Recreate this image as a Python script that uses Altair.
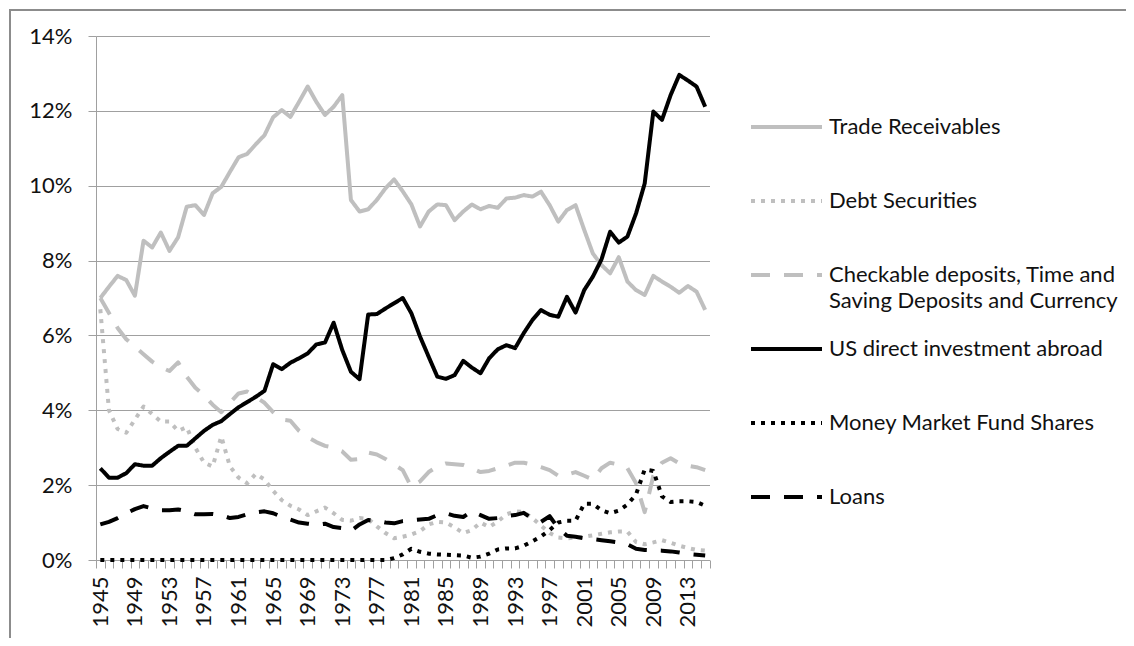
import altair as alt
import pandas as pd

years = list(range(1945, 2016))

trade_receivables = [
    7.0, 7.3, 7.59, 7.48, 7.06, 8.53, 8.35, 8.75, 8.26, 8.62,
    9.44, 9.48, 9.22, 9.8, 9.97, 10.37, 10.76, 10.85, 11.11, 11.35,
    11.83, 12.02, 11.84, 12.24, 12.65, 12.24, 11.89, 12.11, 12.42, 9.62,
    9.31, 9.37, 9.62, 9.93, 10.17, 9.85, 9.5, 8.91, 9.31, 9.5,
    9.48, 9.08, 9.31, 9.5, 9.37, 9.46, 9.41, 9.66, 9.68, 9.75,
    9.71, 9.84, 9.48, 9.04, 9.35, 9.48, 8.82, 8.19, 7.88, 7.66,
    8.09, 7.44, 7.21, 7.08, 7.59, 7.44, 7.3, 7.14, 7.32, 7.17, 6.68,
]

debt_securities = [
    6.7, 4.0, 3.5, 3.4, 3.75, 4.1, 3.9, 3.7, 3.7, 3.45,
    3.55, 3.0, 2.6, 2.5, 3.3, 2.5, 2.2, 2.05, 2.3, 2.15,
    1.85, 1.6, 1.45, 1.35, 1.2, 1.3, 1.4, 1.25, 1.07, 1.05,
    1.12, 1.1, 0.9, 0.72, 0.58, 0.62, 0.68, 0.77, 0.95, 1.02,
    1.0, 0.87, 0.72, 0.8, 1.0, 0.88, 1.03, 1.22, 1.3, 1.28,
    1.12, 0.92, 0.72, 0.6, 0.58, 0.6, 0.62, 0.66, 0.7, 0.74,
    0.76, 0.76, 0.48, 0.42, 0.47, 0.53, 0.46, 0.38, 0.32, 0.27, 0.25,
]

checkable_deposits = [
    7.0, 6.6, 6.2, 5.9, 5.7, 5.5, 5.3, 5.15, 5.05, 5.28,
    4.9, 4.6, 4.4, 4.15, 3.95, 4.2, 4.45, 4.5, 4.35, 4.2,
    3.95, 3.75, 3.72, 3.45, 3.28, 3.15, 3.05, 3.0, 2.9, 2.68,
    2.7, 2.87, 2.82, 2.7, 2.55, 2.4, 1.95, 2.1, 2.35, 2.5,
    2.58, 2.56, 2.54, 2.45, 2.35, 2.38, 2.45, 2.52, 2.6, 2.6,
    2.55, 2.48, 2.4, 2.25, 2.28, 2.35, 2.25, 2.15, 2.45, 2.6,
    2.55, 2.45, 2.05, 1.28, 2.25, 2.6, 2.72, 2.58, 2.52, 2.48, 2.4,
]

us_direct_investment = [
    2.45, 2.2, 2.2, 2.32, 2.56, 2.52, 2.52, 2.72, 2.89, 3.05,
    3.05, 3.25, 3.45, 3.61, 3.71, 3.9, 4.08, 4.22, 4.36, 4.52,
    5.23, 5.1, 5.27, 5.39, 5.52, 5.76, 5.81, 6.34, 5.61, 5.03,
    4.83, 6.56, 6.57, 6.72, 6.86, 7.0, 6.59, 5.97, 5.43, 4.9,
    4.84, 4.94, 5.32, 5.14, 4.99, 5.39, 5.63, 5.74, 5.66, 6.06,
    6.41, 6.68, 6.55, 6.5, 7.03, 6.61, 7.21, 7.57, 8.03, 8.77,
    8.48, 8.64, 9.26, 10.06, 11.98, 11.76, 12.42, 12.96, 12.81, 12.65, 12.11,
]

money_market = [
    0.0, 0.0, 0.0, 0.0, 0.0, 0.0, 0.0, 0.0, 0.0, 0.0,
    0.0, 0.0, 0.0, 0.0, 0.0, 0.0, 0.0, 0.0, 0.0, 0.0,
    0.0, 0.0, 0.0, 0.0, 0.0, 0.0, 0.0, 0.0, 0.0, 0.0,
    0.0, 0.0, 0.0, 0.0, 0.05, 0.15, 0.3, 0.22, 0.17, 0.15,
    0.14, 0.13, 0.12, 0.06, 0.09, 0.17, 0.28, 0.31, 0.31, 0.38,
    0.5, 0.63, 0.8, 1.0, 1.05, 1.05, 1.5, 1.5, 1.33, 1.25,
    1.32, 1.48, 1.75, 2.42, 2.38, 1.7, 1.55, 1.57, 1.57, 1.55, 1.45,
]

loans = [
    0.95, 1.02, 1.12, 1.25, 1.36, 1.44, 1.38, 1.33, 1.33, 1.35,
    1.3, 1.22, 1.22, 1.23, 1.2, 1.12, 1.15, 1.22, 1.27, 1.3,
    1.25, 1.15, 1.08, 1.0, 0.97, 0.94, 0.97, 0.88, 0.85, 0.78,
    0.95, 1.07, 1.05, 1.0, 0.98, 1.04, 1.06, 1.08, 1.1, 1.2,
    1.25, 1.18, 1.15, 1.3, 1.2, 1.1, 1.12, 1.18, 1.2, 1.26,
    1.1, 1.02, 1.17, 0.85, 0.65, 0.62, 0.58, 0.56, 0.53, 0.5,
    0.47, 0.42, 0.3, 0.27, 0.26, 0.25, 0.23, 0.2, 0.16, 0.14, 0.12,
]

series_names = [
    "Trade Receivables",
    "Debt Securities",
    "Checkable deposits, Time and Saving Deposits and Currency",
    "US direct investment abroad",
    "Money Market Fund Shares",
    "Loans",
]
series_values = [
    trade_receivables,
    debt_securities,
    checkable_deposits,
    us_direct_investment,
    money_market,
    loans,
]
series_colors = ["#BFBFBF", "#BFBFBF", "#BFBFBF", "#000000", "#000000", "#000000"]
series_dashes = [[1, 0], [4, 6], [19, 14], [1, 0], [4, 6], [19, 14]]

y_ticks = [0, 2, 4, 6, 8, 10, 12, 14]
x_tick_bounds = [y - 0.5 for y in years] + [years[-1] + 0.5]

rows = []
for name, vals in zip(series_names, series_values):
    for yr, v in zip(years, vals):
        rows.append({"year": yr, "value": v, "series": name})
df = pd.DataFrame(rows)

FONT = "Lato"
GRID = "#A0A0A0"

legend = alt.Legend(
    title=None,
    orient="none",
    legendX=653,
    legendY=54,
    padding=0,
    symbolType="stroke",
    symbolSize=5041,
    symbolStrokeWidth=4,
    clipHeight=74,
    rowPadding=0,
    labelFont=FONT,
    labelFontSize=22,
    labelColor="#111111",
    labelOffset=5,
    labelLimit=600,
    labelExpr=(
        "datum.label == 'Checkable deposits, Time and Saving Deposits and Currency'"
        " ? ['Checkable deposits, Time and', 'Saving Deposits and Currency'] : datum.label"
    ),
)

lines = alt.Chart(df).mark_line(strokeWidth=4, strokeJoin="round").encode(
    x=alt.X(
        "year:Q",
        scale=alt.Scale(domain=[1944.5, 2015.5], nice=False, zero=False),
        axis=alt.Axis(
            title=None,
            values=x_tick_bounds,
            labelExpr="(datum.value + 0.5 - 1945) % 4 == 0 ? '' + (datum.value + 0.5) : ''",
            labelOffset=4.3,
            labelAngle=270,
            labelFont=FONT,
            labelFontSize=22,
            labelColor="#111111",
            labelPadding=8,
            labelOverlap=False,
            labelBound=False,
            labelFlush=False,
            tickSize=8,
            tickColor=GRID,
            domainColor=GRID,
            grid=False,
        ),
    ),
    y=alt.Y(
        "value:Q",
        scale=alt.Scale(domain=[0, 14], nice=False),
        axis=alt.Axis(
            title=None,
            values=y_ticks,
            labelExpr="datum.value + '%'",
            labelFont=FONT,
            labelFontSize=22,
            labelColor="#111111",
            labelPadding=16,
            tickSize=8,
            tickColor=GRID,
            domainColor=GRID,
            gridColor=GRID,
            grid=True,
        ),
    ),
    color=alt.Color(
        "series:N",
        scale=alt.Scale(domain=series_names, range=series_colors),
        legend=legend,
    ),
    strokeDash=alt.StrokeDash(
        "series:N",
        scale=alt.Scale(domain=series_names, range=series_dashes),
        legend=legend,
    ),
    order=alt.Order("year:Q"),
)

frame_data = alt.Data(values=[{"k": 1}])
frame_left = alt.Chart(frame_data).mark_rule(color="#8C8C8C", strokeWidth=2).encode(
    x=alt.value(-86), y=alt.value(-27), y2=alt.value(610)
)
frame_top = alt.Chart(frame_data).mark_rule(color="#8C8C8C", strokeWidth=2).encode(
    x=alt.value(-87), x2=alt.value(1040), y=alt.value(-26)
)

chart = (
    alt.layer(frame_left, frame_top, lines)
    .properties(
        width=613.5,
        height=524,
        padding={"left": 88, "top": 28, "right": 416, "bottom": 78},
        autosize=alt.AutoSizeParams(type="none"),
        background="white",
    )
    .configure(
        view=alt.ViewConfig(strokeWidth=0),
        style={"guide-label": {"lineHeight": 26}},
    )
)

chart.save("out.html", embed_options={"renderer": "svg", "actions": False})
